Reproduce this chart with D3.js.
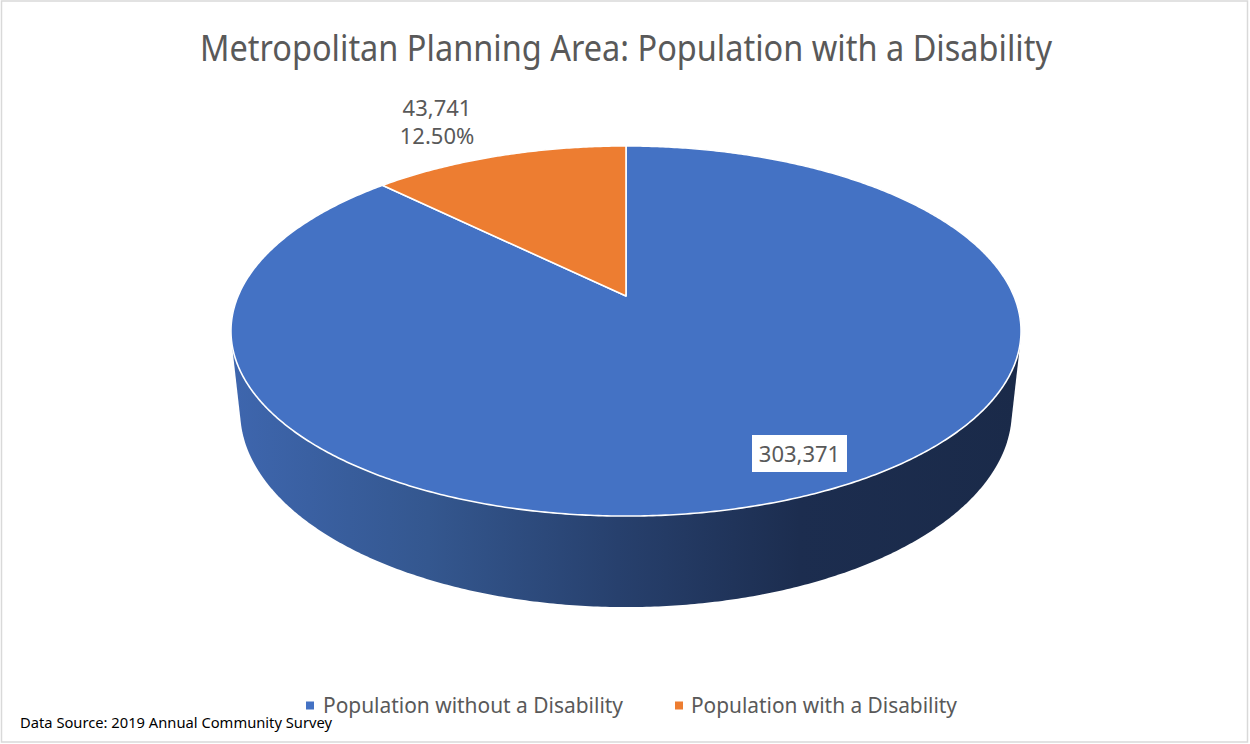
<!DOCTYPE html>
<html>
<head>
<meta charset="utf-8">
<script src="https://cdn.jsdelivr.net/npm/d3@7"></script>
<style>
  html, body { margin: 0; padding: 0; background: #fff; }
  svg { display: block; font-family: "Noto Sans", "Open Sans", sans-serif; }
</style>
</head>
<body>
<script>
// ---- data ----
const categories = ["Population without a Disability", "Population with a Disability"];
const values = [303371, 43741];
const valueLabels = ["303,371", "43,741"];
const percentLabels = ["", "12.50%"];
const colors = ["#4472C4", "#ED7D31"];
const titleText = "Metropolitan Planning Area: Population with a Disability";
const sourceText = "Data Source: 2019 Annual Community Survey";

const W = 1250, H = 744;
const svg = d3.select("body").append("svg").attr("width", W).attr("height", H);

// chart frame
svg.append("rect")
  .attr("x", 1.5).attr("y", 1).attr("width", W - 4).attr("height", H - 3)
  .attr("fill", "#fff").attr("stroke", "#d9d9d9").attr("stroke-width", 1.5);

// ---- perspective projection of a tilted disc ----
// angle a is clockwise from the far (12 o'clock) point, r is radius fraction,
// down = true gives the point on the underside of the extruded pie
const P = { cx: 626, cy: 296, s: 387.9, sinB: 0.46, cosB: 0.888, persp: 0.1892, depth: 0.235 };
P.shift = P.depth * P.persp * P.sinB / P.cosB;
function proj(a, r, down) {
  const u = r * Math.sin(a), v = r * Math.cos(a);
  const h = down ? P.depth : 0;
  const w = 1 + P.persp * v + (down ? P.shift : 0);
  return [P.cx + P.s * u / w, P.cy + P.s * (-v * P.sinB + h * P.cosB) / w];
}

const arcs = d3.pie().sort(null).value(d => d)(values);

// ---- side wall: hull of upper and lower rims ----
const rim = [];
const N = 720;
for (let i = 0; i < N; i++) {
  const a = (i / N) * 2 * Math.PI;
  rim.push(proj(a, 1, false), proj(a, 1, true));
}
const hull = d3.polygonHull(rim);
const xExt = d3.extent(hull, p => p[0]);

const defs = svg.append("defs");
const grad = defs.append("linearGradient")
  .attr("id", "sideShade").attr("gradientUnits", "userSpaceOnUse")
  .attr("x1", xExt[0]).attr("y1", 0).attr("x2", xExt[1]).attr("y2", 0);
[[0, "#3e66ae"], [0.25, "#34578f"], [0.49, "#27406d"], [0.72, "#1c2d4f"], [1, "#1a2a49"]]
  .forEach(([o, c]) => grad.append("stop").attr("offset", o).attr("stop-color", c));

svg.append("path")
  .attr("d", d3.line()(hull) + "Z")
  .attr("fill", "url(#sideShade)");

// ---- top faces of the slices ----
const line = d3.line();
svg.append("g").selectAll("path")
  .data(arcs)
  .join("path")
  .attr("d", d => {
    const pts = [proj(0, 0, false)];
    const steps = Math.max(8, Math.ceil((d.endAngle - d.startAngle) / (Math.PI / 360)));
    for (let i = 0; i <= steps; i++) {
      const a = d.startAngle + (d.endAngle - d.startAngle) * i / steps;
      pts.push(proj(a, 1, false));
    }
    return line(pts) + "Z";
  })
  .attr("fill", (d, i) => colors[i])
  .attr("stroke", "#fff")
  .attr("stroke-width", 1.6)
  .attr("stroke-linejoin", "round");

// ---- data labels ----
const labelColor = "#595959";
// value label on the large slice, in a white box
const big = svg.append("g").attr("transform", "translate(799.5,453.5)");
big.append("rect").attr("x", -47.5).attr("y", -18.5).attr("width", 95).attr("height", 37).attr("fill", "#fff");
big.append("text").attr("text-anchor", "middle").attr("y", 8.5)
  .attr("font-size", 22).attr("fill", labelColor).text(valueLabels[0]);

// value + percent label above the small slice
const small = svg.append("g").attr("transform", "translate(437,0)");
small.append("text").attr("text-anchor", "middle").attr("y", 116)
  .attr("font-size", 22).attr("fill", labelColor).text(valueLabels[1]);
small.append("text").attr("text-anchor", "middle").attr("y", 144)
  .attr("font-size", 22).attr("fill", labelColor).text(percentLabels[1]);

// ---- title ----
svg.append("text")
  .attr("x", 626).attr("y", 61).attr("text-anchor", "middle")
  .attr("font-size", 36).attr("fill", labelColor)
  .attr("textLength", 852).attr("lengthAdjust", "spacingAndGlyphs")
  .text(titleText);

// ---- legend ----
const legendItems = [
  { sx: 306, tx: 323, tw: 300 },
  { sx: 675, tx: 691, tw: 266 }
];
const legend = svg.append("g");
categories.forEach((c, i) => {
  legend.append("rect").attr("x", legendItems[i].sx).attr("y", 701.5)
    .attr("width", 8).attr("height", 8).attr("fill", colors[i]);
  legend.append("text").attr("x", legendItems[i].tx).attr("y", 713)
    .attr("font-size", 22).attr("fill", labelColor)
    .attr("textLength", legendItems[i].tw).attr("lengthAdjust", "spacingAndGlyphs")
    .text(c);
});

// ---- source note ----
svg.append("text")
  .attr("x", 20).attr("y", 728)
  .attr("font-size", 14).attr("fill", "#000")
  .attr("textLength", 312).attr("lengthAdjust", "spacingAndGlyphs")
  .text(sourceText);
</script>
</body>
</html>
